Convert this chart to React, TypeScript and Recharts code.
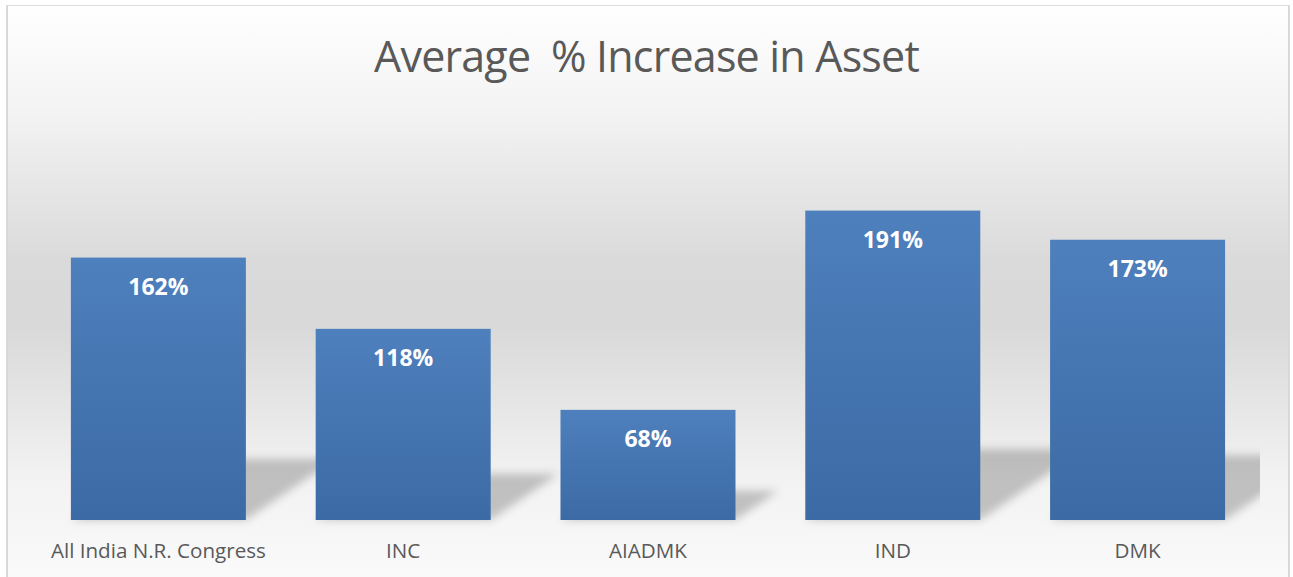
import React from 'react';
import { BarChart, Bar, XAxis, YAxis, LabelList } from 'recharts';

const categories = ['All India N.R. Congress', 'INC', 'AIADMK', 'IND', 'DMK'];
const values = [162, 118, 68, 191, 173];
const title = 'Average  % Increase in Asset';

const data = categories.map((name, i) => ({ name, value: values[i] }));

const W = 1293;
const H = 577;
const MARGIN = { top: 115, right: 33, left: 36, bottom: 0 };

const BarWithShadow = (props: any) => {
  const { x, y, width, height } = props;
  if (height == null || height <= 0) return null;
  const base = y + height;
  const s = 0.21 * height + 6;
  const dx = s / 0.68;
  const pts = `${x},${base} ${x + width},${base} ${x + width + dx},${base - s} ${x + dx},${base - s}`;
  return (
    <g>
      <g clipPath="url(#plotClip)">
        <polygon points={pts} fill="rgba(0,0,0,0.21)" filter="url(#shBlur)" />
      </g>
      <rect x={x} y={y} width={width} height={height} fill="url(#barGrad)" />
    </g>
  );
};

export default function App() {
  return (
    <div style={{ position: 'absolute', left: 0, top: 0, width: W, height: H, overflow: 'hidden', background: '#ffffff' }}>
      <div
        style={{
          position: 'absolute',
          left: 6,
          top: 5,
          width: 1280,
          height: 620,
          borderLeft: '2px solid #d9d9d9',
          borderRight: '2px solid #d9d9d9',
          borderTop: '1px solid #dcdcdc',
          background:
            'linear-gradient(to bottom, #ffffff 0px, #f4f4f4 100px, #dadada 255px, #d9d9d9 320px, #e6e6e6 400px, #f2f2f2 470px, #fafafa 572px, #fbfbfb 620px)',
        }}
      />
      <div
        style={{
          position: 'absolute',
          left: 0,
          top: 34,
          width: W,
          textAlign: 'center',
          fontFamily: 'Open Sans',
          fontSize: 43,
          lineHeight: 1,
          letterSpacing: -0.8,
          color: '#595959',
          whiteSpace: 'pre',
        }}
      >
        {title}
      </div>
      <div style={{ position: 'absolute', left: 0, top: 0 }}>
        <BarChart
          width={W}
          height={H}
          data={data}
          margin={MARGIN}
          barCategoryGap="14.25%"
          style={{ fontFamily: 'Open Sans' }}
        >
          <defs>
            <linearGradient id="barGrad" x1="0" y1="0" x2="0" y2="1">
              <stop offset="0%" stopColor="#4e80bd" />
              <stop offset="100%" stopColor="#3c6aa4" />
            </linearGradient>
            <filter id="shBlur" x="-50%" y="-50%" width="200%" height="200%">
              <feGaussianBlur stdDeviation="4" />
            </filter>
            <clipPath id="plotClip">
              <rect x={MARGIN.left} y={0} width={W - MARGIN.left - MARGIN.right} height={H} />
            </clipPath>
          </defs>
          <XAxis
            dataKey="name"
            axisLine={false}
            tickLine={false}
            height={57}
            tickMargin={17}
            interval={0}
            tick={{ fill: '#595959', fontSize: 20.6, fontFamily: 'Open Sans' }}
          />
          <YAxis hide domain={[0, 250]} />
          <Bar dataKey="value" shape={BarWithShadow} isAnimationActive={false}>
            <LabelList
              dataKey="value"
              position="insideTop"
              offset={21}
              formatter={(v: any) => `${v}%`}
              fill="#ffffff"
              style={{ fontWeight: 700, fontSize: 23, fontFamily: 'Open Sans', fill: '#ffffff' }}
            />
          </Bar>
        </BarChart>
      </div>
    </div>
  );
}
